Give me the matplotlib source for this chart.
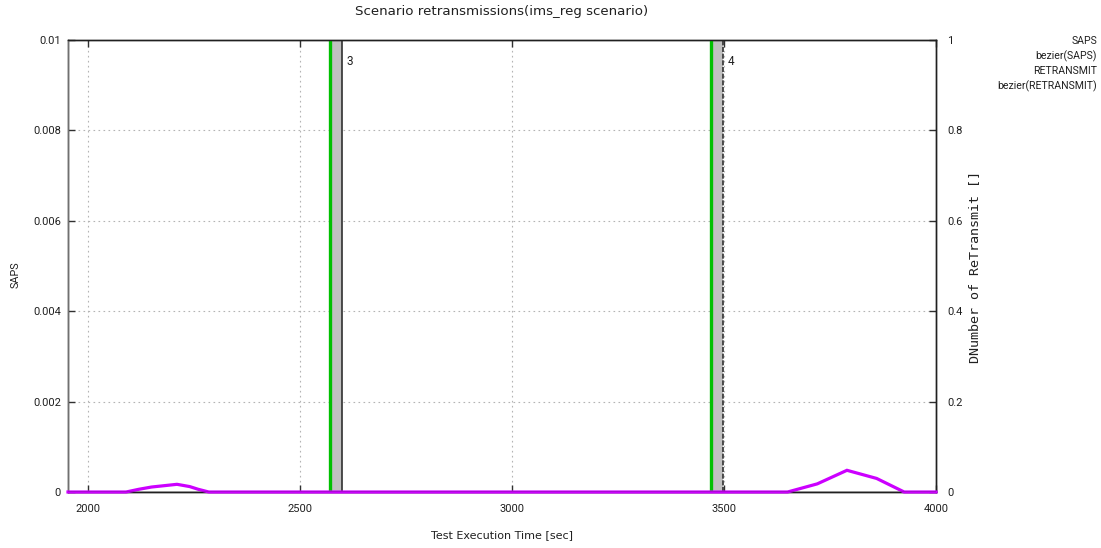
import matplotlib
matplotlib.use("Agg")
import matplotlib.pyplot as plt

# --- data ---------------------------------------------------------------
saps_time = [1953, 2090, 2120, 2150, 2180, 2210, 2240, 2260, 2285,
             3650, 3720, 3790, 3860, 3925, 4000]
saps_value = [0, 0, 0.00006, 0.00011, 0.00014, 0.00017, 0.00012, 0.00006, 0,
              0, 0.00018, 0.00048, 0.00030, 0, 0]

retx_time = [2572, 3470]
retx_value = [3, 4]
retx_width = 27

x_ticks = [2000, 2500, 3000, 3500, 4000]
left_ticks = [0, 0.002, 0.004, 0.006, 0.008, 0.01]
left_labels = ["0", "0.002", "0.004", "0.006", "0.008", "0.01"]
right_ticks = [0, 0.2, 0.4, 0.6, 0.8, 1]
right_labels = ["0", "0.2", "0.4", "0.6", "0.8", "1"]
legend_entries = ["SAPS", "bezier(SAPS)", "RETRANSMIT", "bezier(RETRANSMIT)"]

# --- style ---------------------------------------------------------------
plt.rcParams["font.family"] = ["Roboto", "DejaVu Sans"]
plt.rcParams["font.size"] = 7.6
TXT = "#202020"

W, H = 1101, 548
fig = plt.figure(figsize=(W / 100, H / 100), dpi=100)
left, right, top, bottom = 68, 936, 40, 492
ax = fig.add_axes([left / W, 1 - bottom / H, (right - left) / W, (bottom - top) / H])
ax2 = ax.twinx()

ax.set_xlim(1953, 4000)
ax.set_ylim(0, 0.01)
ax2.set_ylim(0, 1)

# grid behind everything (on the lower axes)
grid_kw = dict(color="#b4b4b4", linestyle=(0, (1.5, 3)), linewidth=0.8)
for t in x_ticks[:-1]:
    ax2.axvline(t, zorder=0, **grid_kw)
for v in right_ticks[1:-1]:
    ax2.axhline(v, zorder=0, **grid_kw)

# retransmission boxes with impulse lines
for t, v in zip(retx_time, retx_value):
    ax2.bar(t, v, width=retx_width, align="edge", color="#c0c0c0",
            edgecolor="none", zorder=2)
    ax2.plot([t + retx_width, t + retx_width], [0, v], color="#303030",
             linewidth=1.2, linestyle=(0, (3, 1)) if v == 4 else "-", zorder=3)
    ax2.plot([t, t], [0, v], color="#00c000", linewidth=2.4, zorder=4)
    ax2.text(t + retx_width + 11, 0.952, str(v), ha="left", va="center",
             fontsize=8.5, color=TXT, zorder=5)

# SAPS curve on top
ax.set_zorder(ax2.get_zorder() + 1)
ax.patch.set_visible(False)
ax.plot(saps_time, saps_value, color="#cc00ff", linewidth=2.3,
        solid_joinstyle="miter", zorder=5, clip_on=False)
ax.plot([1953, 4000], [0, 0], color="#202020", linewidth=1.0, zorder=6)

# ticks and labels
ax.set_xticks(x_ticks)
ax.set_xticklabels([str(t) for t in x_ticks])
ax.set_yticks(left_ticks)
ax.set_yticklabels(left_labels)
ax2.set_yticks(right_ticks)
ax2.set_yticklabels(right_labels)
ax.tick_params(axis="x", direction="in", length=5, width=1, pad=9,
               top=True, colors="#303030", labelcolor=TXT, labelsize=8)
ax.tick_params(axis="y", direction="in", length=5, width=1, pad=5,
               colors="#303030", labelcolor=TXT, labelsize=8)
ax2.tick_params(axis="y", direction="in", length=5, width=1, pad=8,
                colors="#303030", labelcolor=TXT, labelsize=8)

for a in (ax, ax2):
    for s in a.spines.values():
        s.set_color("#202020")
        s.set_linewidth(1.0)
ax.spines["left"].set_color("#707070")

fig.text(502 / W, 1 - 12 / H, "Scenario retransmissions(ims_reg scenario)",
         ha="center", va="center", color=TXT, family=["DejaVu Sans"], fontsize=9.6)
fig.text(502 / W, 1 - 535 / H, "Test Execution Time [sec]",
         ha="center", va="center", color=TXT, family=["DejaVu Sans"], fontsize=8)
fig.text(16 / W, 1 - 275 / H, "SAPS", rotation=90,
         ha="center", va="center", color=TXT, fontsize=7.8)
fig.text(975 / W, 1 - 267 / H, "DNumber of ReTransmit []", rotation=90,
         ha="center", va="center", color=TXT,
         family=["DejaVu Sans Mono"], fontsize=9.6)

for i, name in enumerate(legend_entries):
    fig.text(1097 / W, 1 - (41 + 15 * i) / H, name, ha="right", va="center",
             color=TXT)

fig.savefig("out.png", dpi=100)
